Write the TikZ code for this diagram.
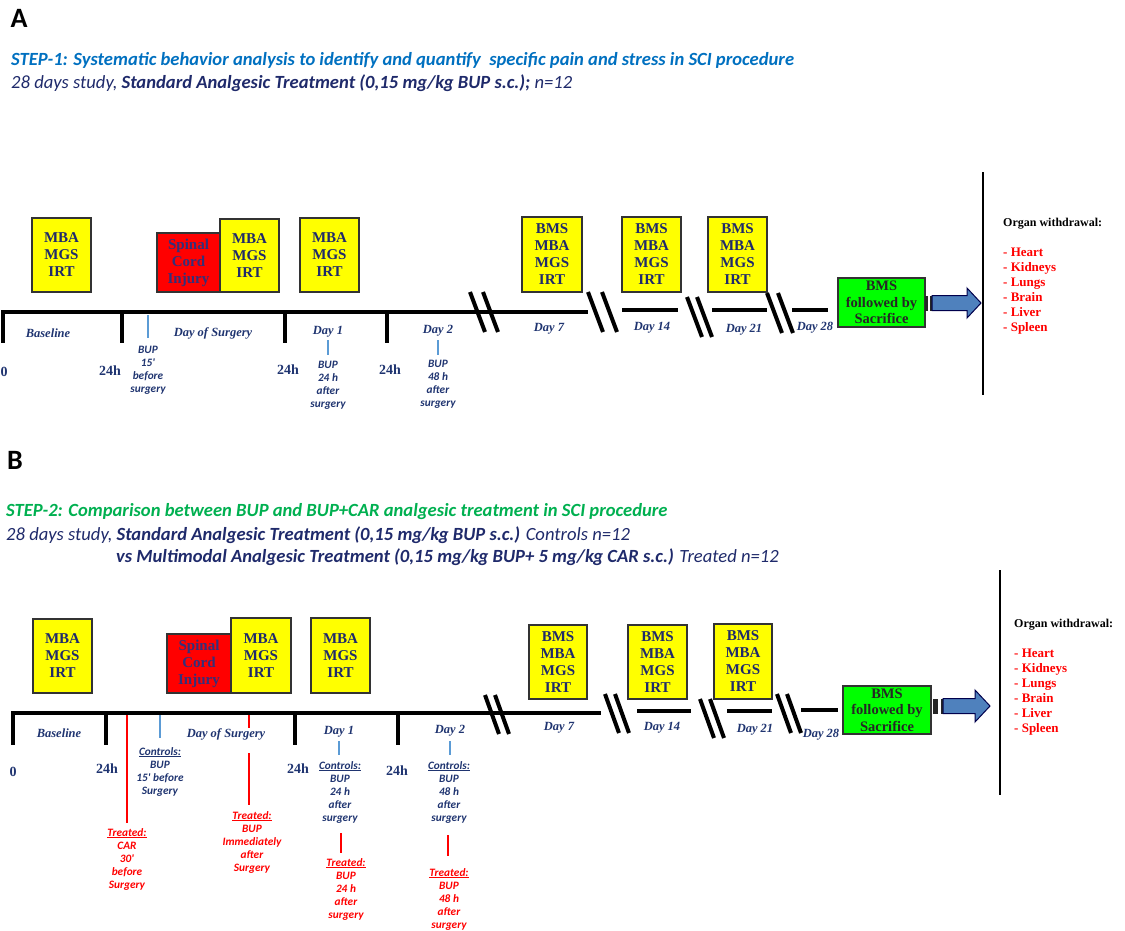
\documentclass[tikz,border=0pt]{standalone}
\usepackage{fontspec}
\setmainfont{Liberation Serif}
\newfontfamily\calib{Carlito}
\usepackage{xcolor}
\usepackage{tikz}
\definecolor{stepblue}{HTML}{0070C0}
\definecolor{stepgreen}{HTML}{00B050}
\definecolor{navy}{HTML}{1F2A6B}
\definecolor{daynavy}{HTML}{1F3470}
\definecolor{tickblue}{HTML}{5B9BD5}
\definecolor{arrowblue}{HTML}{4F81BD}
\definecolor{scitext}{HTML}{33307A}
\definecolor{boxyellow}{HTML}{FFFF00}
\definecolor{boxgreen}{HTML}{00FF00}
\definecolor{organred}{HTML}{FF0000}
\usetikzlibrary{positioning}

\newcommand{\organ}[1]{\textcolor{organred}{\fontsize{13}{15}\selectfont - #1}}

\tikzset{
  axis/.style={line width=4pt},
  breakmark/.style={line width=4pt},
  testbox/.style={draw=black!80, line width=1.2pt, fill=boxyellow, align=center, inner sep=0pt,
    font=\bfseries\fontsize{15}{17}\selectfont, text=navy},
  scibox/.style={testbox, fill=red, text=scitext},
  endbox/.style={testbox, fill=boxgreen, font=\bfseries\fontsize{14.5}{16.5}\selectfont, text=black!85},
  daylabel/.style={font=\bfseries\itshape\fontsize{12.5}{14}\selectfont, text=daynavy, inner sep=0pt},
  hourlabel/.style={font=\bfseries\fontsize{14}{16}\selectfont, text=daynavy, inner sep=0pt},
  druglabel/.style={font=\calib\bfseries\itshape\fontsize{11.3}{13}\selectfont, text=daynavy, align=center, anchor=north, inner sep=0pt},
  treatlabel/.style={druglabel, text=organred},
  bluetick/.style={tickblue, line width=1.2pt},
  redtick/.style={organred, line width=1.5pt},
  organs/.style={align=left, anchor=north west, inner sep=0pt, font=\bfseries\fontsize{12}{15}\selectfont},
  panel/.style={font=\calib\bfseries\fontsize{28}{30}\selectfont, inner sep=0pt},
  headline/.style={font=\calib\itshape\fontsize{18.6}{20}\selectfont, anchor=west, inner sep=0pt, text=navy},
  arrowbody/.style={fill=arrowblue, draw=black!70!blue, line width=1pt},
}

\begin{document}
\begin{tikzpicture}[x=1pt, y=-1pt]
	\useasboundingbox (0,0) rectangle (1125,930);

	%%%%%%%%%%%%%%%% Teil A %%%%%%%%%%%%%%%%
	\node[panel] (panA) at (19,18) {A};
	\node[headline, text=stepblue] (stepA) at (11,60) {\bfseries STEP-1: Systematic behavior analysis to identify and quantify\ \ specific pain and stress in SCI procedure};
	\node[headline] (studyA) at (11,83) {28 days study, {\bfseries Standard Analgesic Treatment (0,15 mg/kg BUP s.c.);} n=12};

	%Zeitstrahl
	\draw[axis] (1,312) -- (588,312);
	\draw[axis] (622,310) -- (678,310);
	\draw[axis] (712,310) -- (767,310);
	\draw[axis] (792,310) -- (828,310);
	\foreach \x in {3,122,285,387}
		\draw[axis] (\x,310) -- (\x,343);
	%Unterbrechungen
	\foreach \x/\y/\d in {470/292/13, 588/292/14, 687/297/10, 767/293/11} {
		\draw[breakmark] (\x,\y) -- ++(15,40);
		\draw[breakmark] (\x+\d,\y) -- ++(15,40);
	}

	%Messungen
	\node[testbox, minimum width=59, minimum height=74] (a0) at (61.5,255) {MBA\\MGS\\IRT};
	\node[scibox, minimum width=63, minimum height=59] (sciA) at (188.5,262.5) {Spinal\\Cord\\Injury};
	\node[testbox, minimum width=59, minimum height=73] (aS) at (249.5,255.5) {MBA\\MGS\\IRT};
	\node[testbox, minimum width=59, minimum height=74] (a1) at (329.5,255) {MBA\\MGS\\IRT};
	\node[testbox, minimum width=60, minimum height=75] (a7) at (552,254.5) {BMS\\MBA\\MGS\\IRT};
	\node[testbox, minimum width=59, minimum height=75] (a14) at (651.5,254.5) {BMS\\MBA\\MGS\\IRT};
	\node[testbox, minimum width=59, minimum height=75] (a21) at (737.5,254.5) {BMS\\MBA\\MGS\\IRT};
	\node[endbox, minimum width=87, minimum height=49] (endA) at (881.5,302.5) {BMS\\followed by\\Sacrifice};

	%Tage
	\node[daylabel] (baseA) at (48,333) {Baseline};
	\node[daylabel] (surgA) at (213,333) {Day of Surgery};
	\node[daylabel] (d1A) at (328,332) {Day 1};
	\node[daylabel] (d2A) at (438,331) {Day 2};
	\node[daylabel] (d7A) at (549,329) {Day 7};
	\node[daylabel] (d14A) at (652,328) {Day 14};
	\node[daylabel] (d21A) at (744,330) {Day 21};
	\node[daylabel] (d28A) at (815,328) {Day 28};
	\node[hourlabel, anchor=west] (h0A) at (0.5,372) {0};
	\node[hourlabel] (h1A) at (110,371) {24h};
	\node[hourlabel] (h2A) at (288,370) {24h};
	\node[hourlabel] (h3A) at (390,370) {24h};

	%BUP Gaben
	\draw[bluetick] (148,315) -- (148,338);
	\draw[bluetick] (328,340) -- (328,355);
	\draw[bluetick] (438,340) -- (438,355);
	\node[druglabel] (bupA0) at (148,346) {BUP\\15'\\before\\surgery};
	\node[druglabel] (bupA1) at (328,361) {BUP\\24 h\\after\\surgery};
	\node[druglabel] (bupA2) at (438,360) {BUP\\48 h\\after\\surgery};

	%Pfeil zur Organentnahme
	\begin{scope}[xshift=925, yshift=-303]
		\fill[black!85] (0,-7.5) rectangle (3,7.5);
		\fill[black!85] (4.5,-7.5) rectangle (6.5,7.5);
		\draw[arrowbody] (7,-7.5) -- (42,-7.5) -- (42,-15) -- (56,0) -- (42,15) -- (42,7.5) -- (7,7.5) -- cycle;
	\end{scope}
	\draw[line width=1.2pt] (983,172) -- (983,395);
	\node[organs] (orgA) at (1003,218) {Organ withdrawal:\\[15pt]
		\organ{Heart}\\ \organ{Kidneys}\\ \organ{Lungs}\\ \organ{Brain}\\ \organ{Liver}\\ \organ{Spleen}};

	%%%%%%%%%%%%%%%% Teil B %%%%%%%%%%%%%%%%
	\node[panel] (panB) at (15,460) {B};
	\node[headline, text=stepgreen] (stepB) at (6,512) {\bfseries STEP-2: Comparison between BUP and BUP+CAR\ analgesic treatment in SCI procedure};
	\node[headline] (studyB) at (6,535) {28 days study, {\bfseries Standard Analgesic Treatment (0,15 mg/kg BUP s.c.)} Controls n=12};
	\node[headline] (studyB2) at (116,557) {{\bfseries vs Multimodal Analgesic Treatment (0,15 mg/kg BUP+ 5 mg/kg CAR s.c.)} Treated n=12};

	%Zeitstrahl
	\draw[axis] (11,713) -- (601,713);
	\draw[axis] (637,711) -- (691,711);
	\draw[axis] (727,711) -- (772,711);
	\draw[axis] (801,710) -- (838,710);
	\foreach \x in {13,106,295,398}
		\draw[axis] (\x,711) -- (\x,745);
	%Unterbrechungen
	\foreach \x/\y in {485/695, 605/694, 700/699, 777/694} {
		\draw[breakmark] (\x,\y) -- ++(14,39);
		\draw[breakmark] (\x+10,\y) -- ++(14,39);
	}

	%Messungen
	\node[testbox, minimum width=59, minimum height=74] (b0) at (62.5,656) {MBA\\MGS\\IRT};
	\node[scibox, minimum width=64, minimum height=59] (sciB) at (199,663.5) {Spinal\\Cord\\Injury};
	\node[testbox, minimum width=60, minimum height=75] (bS) at (261,655.5) {MBA\\MGS\\IRT};
	\node[testbox, minimum width=59, minimum height=75] (b1) at (340.5,655.5) {MBA\\MGS\\IRT};
	\node[testbox, minimum width=58, minimum height=74] (b7) at (558,662) {BMS\\MBA\\MGS\\IRT};
	\node[testbox, minimum width=59, minimum height=74] (b14) at (657.5,662) {BMS\\MBA\\MGS\\IRT};
	\node[testbox, minimum width=58, minimum height=75] (b21) at (743,661.5) {BMS\\MBA\\MGS\\IRT};
	\node[endbox, minimum width=88, minimum height=48] (endB) at (887,710) {BMS\\followed by\\Sacrifice};

	%Tage
	\node[daylabel] (baseB) at (59,733) {Baseline};
	\node[daylabel] (surgB) at (226,734) {Day of Surgery};
	\node[daylabel] (d1B) at (339,732) {Day 1};
	\node[daylabel] (d2B) at (450,731) {Day 2};
	\node[daylabel] (d7B) at (559,728) {Day 7};
	\node[daylabel] (d14B) at (662,728) {Day 14};
	\node[daylabel] (d21B) at (755,730) {Day 21};
	\node[daylabel] (d28B) at (821,735) {Day 28};
	\node[hourlabel] (h0B) at (13,772) {0};
	\node[hourlabel] (h1B) at (107,769) {24h};
	\node[hourlabel] (h2B) at (298,769) {24h};
	\node[hourlabel] (h3B) at (397,771) {24h};

	%Kontrollen (BUP)
	\draw[bluetick] (160,715) -- (160,738);
	\draw[bluetick] (339,741) -- (339,755);
	\draw[bluetick] (450,741) -- (450,755);
	\node[druglabel] (ctrB0) at (160,747) {\underline{Controls:}\\BUP\\15' before\\Surgery};
	\node[druglabel] (ctrB1) at (340,761) {\underline{Controls:}\\BUP\\24 h\\after\\surgery};
	\node[druglabel] (ctrB2) at (449,761) {\underline{Controls:}\\BUP\\48 h\\after\\surgery};

	%Behandelte (BUP+CAR)
	\draw[redtick] (127,715) -- (127,823);
	\draw[redtick] (249,715) -- (249,728);
	\draw[redtick] (249,753) -- (249,805);
	\draw[redtick] (341,833) -- (341,853);
	\draw[redtick] (448,835) -- (448,856);
	\node[treatlabel] (trtB0) at (127,828) {\underline{Treated:}\\CAR\\30'\\before\\Surgery};
	\node[treatlabel] (trtBS) at (252,811) {\underline{Treated:}\\BUP\\Immediately\\after\\Surgery};
	\node[treatlabel] (trtB1) at (346,858) {\underline{Treated:}\\BUP\\24 h\\after\\surgery};
	\node[treatlabel] (trtB2) at (449,868) {\underline{Treated:}\\BUP\\48 h\\after\\surgery};

	%Pfeil zur Organentnahme
	\begin{scope}[xshift=932, yshift=-706]
		\fill[black!85] (1,-7.5) rectangle (6,7.5);
		\fill[black!85] (9,-7.5) rectangle (11,7.5);
		\draw[arrowbody] (11,-7.5) -- (43,-7.5) -- (43,-16) -- (58,0) -- (43,16) -- (43,7.5) -- (11,7.5) -- cycle;
	\end{scope}
	\draw[line width=1.2pt] (1000,570) -- (1000,795);
	\node[organs] (orgB) at (1014,619) {Organ withdrawal:\\[15pt]
		\organ{Heart}\\ \organ{Kidneys}\\ \organ{Lungs}\\ \organ{Brain}\\ \organ{Liver}\\ \organ{Spleen}};
\end{tikzpicture}
\end{document}
